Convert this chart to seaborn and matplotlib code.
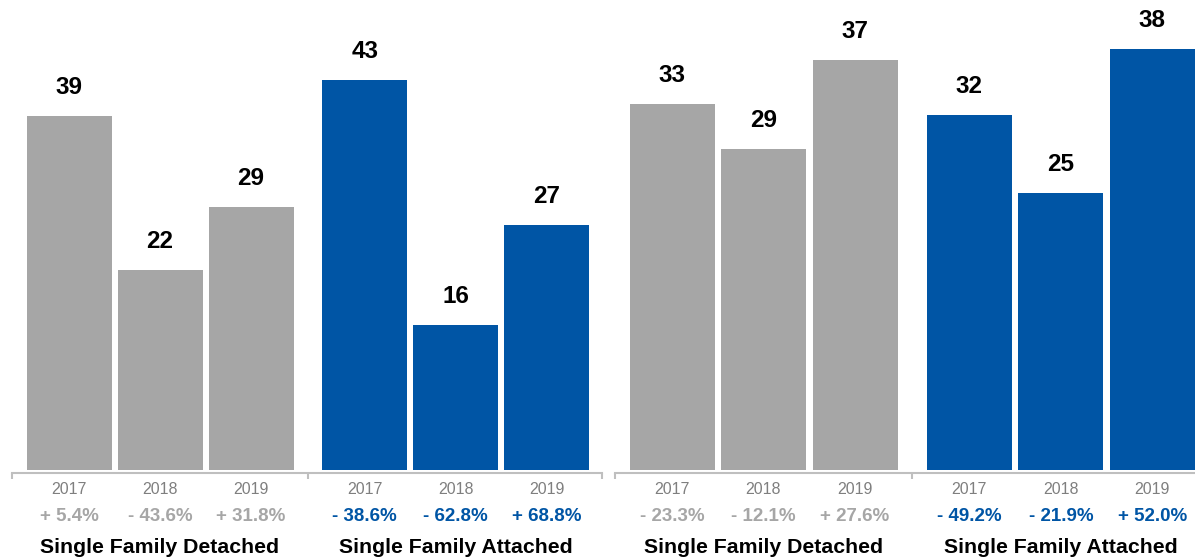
import numpy as np
import pandas as pd
import matplotlib
matplotlib.use('Agg')
import matplotlib.pyplot as plt
import seaborn as sns

# data
years = ['2017', '2018', '2019']
types = ['Single Family Detached', 'Single Family Attached']

left_detached = [39, 22, 29]
left_attached = [43, 16, 27]
left_detached_pct = [5.4, -43.6, 31.8]
left_attached_pct = [-38.6, -62.8, 68.8]

right_detached = [33, 29, 37]
right_attached = [32, 25, 38]
right_detached_pct = [-23.3, -12.1, 27.6]
right_attached_pct = [-49.2, -21.9, 52.0]

gray = '#a6a6a6'
blue = '#0055a5'
colors = {types[0]: gray, types[1]: blue}

sns.set_theme(style='white')
plt.rcParams['font.family'] = ['Liberation Sans', 'DejaVu Sans']

fig = plt.figure(figsize=(11.95, 5.6), dpi=100)

group_gap = 3.25  # offset of second group (in bar steps)


def fmt_pct(v):
    return ('+ ' if v >= 0 else '- ') + f'{abs(v):.1f}%'


def draw_panel(ax, detached, attached, det_pct, att_pct, step_px, ymax):
    rows = []
    for g, (vals, pcts) in enumerate([(detached, det_pct), (attached, att_pct)]):
        for i, yr in enumerate(years):
            rows.append({'type': types[g], 'year': yr, 'value': vals[i],
                         'pct': pcts[i], 'pos': i + g * group_gap})
    df = pd.DataFrame(rows)

    sns.barplot(data=df, x='pos', y='value', hue='type', palette=colors,
                native_scale=True, dodge=False, width=85 / step_px,
                saturation=1, linewidth=0, legend=False, ax=ax)

    left = -57 / step_px
    ax.set_xlim(left, left + 590 / step_px)
    ax.set_ylim(0, ymax)

    for _, r in df.iterrows():
        ax.annotate(str(r['value']), (r['pos'], r['value']), xytext=(0, 20.5),
                    textcoords='offset points', ha='center', va='center',
                    fontsize=17.5, fontweight='bold', color='black')
        ax.annotate(r['year'], (r['pos'], 0), xycoords=('data', 'axes fraction'),
                    xytext=(0, -14.4), textcoords='offset points',
                    ha='center', va='center', fontsize=11.5, color='#7f7f7f')
        ax.annotate(fmt_pct(r['pct']), (r['pos'], 0),
                    xycoords=('data', 'axes fraction'),
                    xytext=(0, -33.8), textcoords='offset points',
                    ha='center', va='center', fontsize=13.5, fontweight='bold',
                    color=colors[r['type']])
    for g, t in enumerate(types):
        ax.annotate(t, (1 + g * group_gap, 0), xycoords=('data', 'axes fraction'),
                    xytext=(0, -55.6), textcoords='offset points',
                    ha='center', va='center', fontsize=15.3, fontweight='bold',
                    color='black')

    lo, hi = ax.get_xlim()
    ax.set_xticks([lo, (2 + group_gap) / 2, hi])
    ax.set_xticklabels([])
    ax.set_yticks([])
    ax.set_xlabel('')
    ax.set_ylabel('')
    for s in ['top', 'right', 'left']:
        ax.spines[s].set_visible(False)
    ax.spines['bottom'].set_color('#bfbfbf')
    ax.spines['bottom'].set_linewidth(1.5)
    ax.spines['bottom'].set_position(('outward', 2.5))
    ax.tick_params(axis='x', bottom=True, direction='out', length=4.5,
                   width=1.5, color='#bfbfbf')
    ax.patch.set_alpha(0)


bottom = 90 / 560
height = 470 / 560
ax1 = fig.add_axes([12 / 1195, bottom, 590 / 1195, height])
draw_panel(ax1, left_detached, left_attached, left_detached_pct,
           left_attached_pct, 91.0, 51.8)
ax2 = fig.add_axes([615 / 1195, bottom, 590 / 1195, height])
draw_panel(ax2, right_detached, right_attached, right_detached_pct,
           right_attached_pct, 91.5, 42.4)

fig.savefig('out.png', dpi=100)
